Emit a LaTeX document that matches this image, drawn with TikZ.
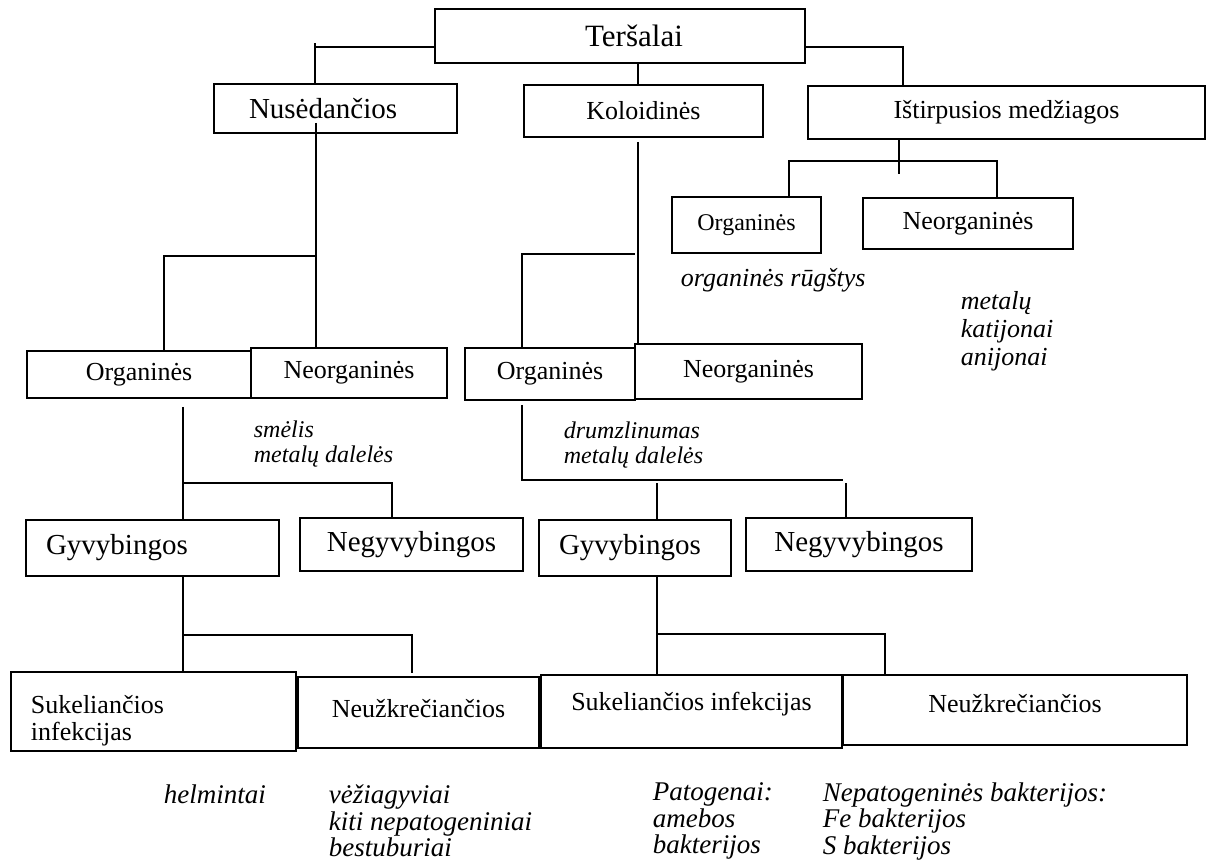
\documentclass[tikz,border=0pt]{standalone}
\usepackage{fontspec}
\setmainfont{Liberation Serif}[ItalicFont={Liberation Serif Italic}]
\newcommand{\fsA}{\fontsize{15.5}{18}\selectfont}
\newcommand{\fsB}{\fontsize{14.5}{17}\selectfont}
\newcommand{\fsC}{\fontsize{13}{13.5}\selectfont}
\newcommand{\fsD}{\fontsize{12}{12.5}\selectfont}
\newcommand{\fsN}{\fontsize{13}{14}\selectfont}
\newcommand{\fsM}{\fontsize{12}{12.5}\selectfont}
\newcommand{\fsL}{\fontsize{13.5}{13.25}\selectfont}
\begin{document}
\begin{tikzpicture}[x=0.5pt, y=-0.5pt, line width=0.9pt,
    box/.style={draw, inner sep=0pt, font=\fsC},
    lbox/.style={box, inner xsep=10pt, align=left},
    lift/.style={text height=9.5pt, text depth=#1},
    note/.style={anchor=west, inner sep=0pt, align=left, font=\fsN\itshape}]

    \useasboundingbox (0,0) rectangle (1208,865);

    % Top level
    \node[box, font=\fsA, minimum width=185pt, minimum height=27pt] (ters) at (620,36) {\hspace*{14pt}Teršalai};
    \node[lbox, font=\fsB, inner xsep=17.5pt, text width=86.5pt, minimum height=24.5pt] (nus) at (335.5,108.5) {Nusėdančios};
    \node[box, minimum width=119.5pt, minimum height=26pt] (kol) at (643.5,111) {Koloidinės};
    \node[box, minimum width=198.5pt, minimum height=26.5pt] (ist) at (1006.5,112.5) {Ištirpusios medžiagos};

    % Dissolved
    \node[box, font=\fsD, minimum width=74.5pt, minimum height=28pt] (orgD) at (746.5,225) {Organinės};
    \node[box, minimum width=105pt, minimum height=25.5pt] (neoD) at (968,223.5) {Neorganinės};

    % Settling and colloidal
    \node[box, minimum width=112pt, minimum height=23.5pt] (orgS) at (139,374.5) {Organinės};
    \node[box, minimum width=98pt, minimum height=25pt] (neoS) at (349,373) {Neorganinės};
    \node[box, minimum width=85pt, minimum height=26pt] (orgK) at (550,374) {Organinės};
    \node[box, minimum width=113.5pt, minimum height=27.5pt] (neoK) at (748.5,371.5) {Neorganinės};

    % Living / non-living
    \node[lbox, font=\fsB, text width=106.5pt, minimum height=28pt] (gyvS) at (152.5,548) {Gyvybingos};
    \node[box, font=\fsB, minimum width=111.5pt, minimum height=26.5pt] (negS) at (411.5,544.5) {Negyvybingos};
    \node[lbox, font=\fsB, text width=76pt, minimum height=28pt] (gyvK) at (635,548) {Gyvybingos};
    \node[box, font=\fsB, minimum width=113pt, minimum height=26.5pt] (negK) at (859,544.5) {Negyvybingos};

    % Infectious / harmless
    \node[lbox, text width=122.5pt, minimum height=39.5pt] (sukS) at (153.5,711.5) {\rule{0pt}{18.5pt}Sukeliančios\\infekcijas};
    \node[box, lift=5pt, minimum width=120.5pt, minimum height=35.5pt] (neuS) at (418.5,712.5) {Neužkrečiančios};
    \node[box, lift=10.8pt, minimum width=150.5pt, minimum height=36.5pt] (sukK) at (691.5,711.5) {Sukeliančios infekcijas};
    \node[box, lift=7pt, minimum width=172pt, minimum height=35pt] (neuK) at (1015,710) {Neužkrečiančios};

    % Notes
    \node[note] (nRug) at (680,280) {organinės rūgštys};
    \node[note] (nJon) at (960,331) {metalų\\katijonai\\anijonai};
    \node[note, font=\fsM\itshape] (nSme) at (253,444.5) {smėlis\\metalų dalelės};
    \node[note, font=\fsM\itshape] (nDru) at (563,445) {drumzlinumas\\metalų dalelės};
    \node[note, font=\fsL\itshape] (nHel) at (163,794) {helmintai};
    \node[note, font=\fsL\itshape] (nVez) at (328,821) {vėžiagyviai\\kiti nepatogeniniai\\bestuburiai};
    \node[note, font=\fsL\itshape] (nPat) at (652,821) {Patogenai:\\amebos\\bakterijos};
    \node[note, font=\fsL\itshape] (nNep) at (822,821) {Nepatogeninės bakterijos:\\Fe bakterijos\\S bakterijos};

    % Junctions
    \coordinate (jN) at (315,47);
    \coordinate (jI) at (903,47);
    \coordinate (jD) at (789,161);
    \coordinate (jS) at (164,256);
    \coordinate (jK) at (522,254);
    \coordinate (jSG) at (183,483);
    \coordinate (jKG) at (522,480);
    \coordinate (jSS) at (183,635);
    \coordinate (jKS) at (657,634);

    % Lines from Teršalai
    \draw (ters.west |- jN) -| (nus.north -| jN);
    \draw (jN) -- ++(0,-4);
    \draw (638,0 |- ters.south) -- (638,0 |- kol.north);
    \draw (ters.east |- jI) -| (ist.north -| jI);

    % Lines under Ištirpusios medžiagos
    \draw (899,0 |- ist.south) -- (899,174);
    \draw (orgD.north -| jD) -- (jD) -| (neoD.north -| 997,0);

    % Lines under Nusėdančios and Koloidinės
    \draw (316,123) -- (neoS.north -| 316,0);
    \draw (orgS.north -| jS) -- (jS) -- (316,256);
    \draw (638,142) -- (neoK.north -| 638,0);
    \draw (orgK.north -| jK) -- (jK) -- (635,254);

    % Lines under the Organinės boxes
    \draw (183,407) -- (gyvS.north -| jSG);
    \draw (jSG) -| (negS.north -| 392,0);
    \draw (522,405) -- (jKG) -- (843,480);
    \draw (846,483) -- (negK.north -| 846,0);
    \draw (657,483) -- (gyvK.north -| 657,0);

    % Lines under the Gyvybingos boxes
    \draw (gyvS.south -| jSS) -- (sukS.north -| jSS);
    \draw (jSS) -| (412,673);
    \draw (gyvK.south -| jKS) -- (sukK.north -| jKS);
    \draw (jKS) -| (885,675);

\end{tikzpicture}
\end{document}
